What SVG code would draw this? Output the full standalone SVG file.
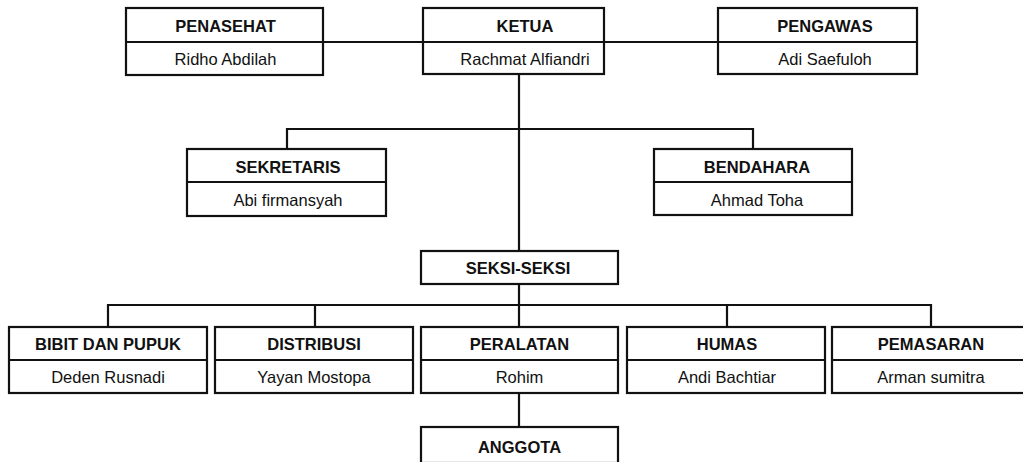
<svg xmlns="http://www.w3.org/2000/svg" width="1023" height="462" viewBox="0 0 1023 462">
<style>
.box{fill:#fff;stroke:#111;stroke-width:2.2}
.ln{fill:none;stroke:#111;stroke-width:2.2}
.t{font-family:"Liberation Sans",Arial,sans-serif;font-size:16.5px;font-weight:bold;fill:#111;text-anchor:middle}
.n{font-family:"Liberation Sans",Arial,sans-serif;font-size:16.5px;fill:#111;text-anchor:middle}
</style>
<rect width="1023" height="462" fill="#fff"/>
<g id="connectors" class="ln">
<path d="M323 42H423M604 42H718"/>
<path d="M519 75V251"/>
<path d="M287 149V129H753V149"/>
<path d="M519 284V327"/>
<path d="M108 327V305H931V327"/>
<path d="M315 305V327M727 305V327"/>
<path d="M519 393V427"/>
</g>
<g id="penasehat"><rect class="box" x="126" y="8" width="197" height="67"/><path class="ln" d="M126 42H323"/><text class="t" x="225.5" y="32">PENASEHAT</text><text class="n" x="225.5" y="65">Ridho Abdilah</text></g>
<g id="ketua"><rect class="box" x="423" y="8" width="181" height="66"/><path class="ln" d="M423 42H604"/><text class="t" x="525" y="32">KETUA</text><text class="n" x="525" y="65">Rachmat Alfiandri</text></g>
<g id="pengawas"><rect class="box" x="718" y="8" width="199" height="66"/><path class="ln" d="M718 42H917"/><text class="t" x="825" y="32">PENGAWAS</text><text class="n" x="825" y="65">Adi Saefuloh</text></g>
<g id="sekretaris"><rect class="box" x="187" y="149" width="199" height="67"/><path class="ln" d="M187 182H386"/><text class="t" x="288" y="173">SEKRETARIS</text><text class="n" x="288" y="206">Abi firmansyah</text></g>
<g id="bendahara"><rect class="box" x="654" y="149" width="198" height="66"/><path class="ln" d="M654 182H852"/><text class="t" x="757" y="173">BENDAHARA</text><text class="n" x="757" y="206">Ahmad Toha</text></g>
<g id="seksi"><rect class="box" x="421" y="251" width="197" height="33"/><text class="t" x="518" y="274">SEKSI-SEKSI</text></g>
<g id="bibit"><rect class="box" x="9" y="327" width="198" height="66"/><path class="ln" d="M9 360H207"/><text class="t" x="108" y="350">BIBIT DAN PUPUK</text><text class="n" x="108" y="383">Deden Rusnadi</text></g>
<g id="distribusi"><rect class="box" x="215" y="327" width="198" height="66"/><path class="ln" d="M215 360H413"/><text class="t" x="314" y="350">DISTRIBUSI</text><text class="n" x="314" y="383">Yayan Mostopa</text></g>
<g id="peralatan"><rect class="box" x="421" y="327" width="197" height="66"/><path class="ln" d="M421 360H618"/><text class="t" x="519.5" y="350">PERALATAN</text><text class="n" x="519.5" y="383">Rohim</text></g>
<g id="humas"><rect class="box" x="627" y="327" width="198" height="66"/><path class="ln" d="M627 360H825"/><text class="t" x="727" y="350">HUMAS</text><text class="n" x="727" y="383">Andi Bachtiar</text></g>
<g id="pemasaran"><rect class="box" x="832" y="327" width="198" height="66"/><path class="ln" d="M832 360H1030"/><text class="t" x="931" y="350">PEMASARAN</text><text class="n" x="931" y="383">Arman sumitra</text></g>
<g id="anggota"><rect class="box" x="421" y="427" width="197" height="36"/><text class="t" x="519.5" y="453">ANGGOTA</text></g>
</svg>
